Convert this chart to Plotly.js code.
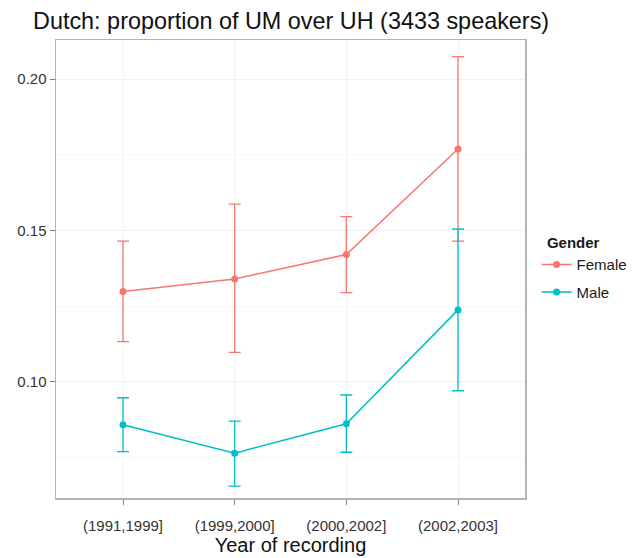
<!DOCTYPE html>
<html>
<head>
<meta charset="utf-8">
<script src="https://cdn.plot.ly/plotly-3.0.1.min.js"></script>
<style>
  html, body { margin: 0; padding: 0; background: #ffffff; }
  #chart { width: 635px; height: 558px; }
</style>
</head>
<body>
<div id="chart"></div>
<script>
// Recording periods on the x axis
const periods = ["(1991,1999]", "(1999,2000]", "(2000,2002]", "(2002,2003]"];

// Proportion of UM over UH, with confidence bounds, by gender
const femaleMean  = [0.1299, 0.1340, 0.1421, 0.1769];
const femaleUpper = [0.1465, 0.1587, 0.1546, 0.2074];
const femaleLower = [0.1133, 0.1098, 0.1295, 0.1465];

const maleMean  = [0.0859, 0.0765, 0.0862, 0.1238];
const maleUpper = [0.0948, 0.0871, 0.0957, 0.1505];
const maleLower = [0.0770, 0.0656, 0.0768, 0.0971];

const yTicks = [0.10, 0.15, 0.20];

function series(name, color, mean, upper, lower) {
  return {
    type: "scatter",
    mode: "lines+markers",
    name: name,
    legendgroup: name,
    x: periods,
    y: mean,
    line: { color: color, width: 1.5 },
    marker: { color: color, size: 7 },
    error_y: {
      type: "data",
      symmetric: false,
      array: upper.map((u, i) => u - mean[i]),
      arrayminus: mean.map((m, i) => m - lower[i]),
      color: color,
      thickness: 1.3,
      width: 6
    }
  };
}

const data = [
  series("Female", "#F8766D", femaleMean, femaleUpper, femaleLower),
  series("Male", "#00BFC4", maleMean, maleUpper, maleLower)
];

const layout = {
  width: 635,
  height: 558,
  paper_bgcolor: "#ffffff",
  plot_bgcolor: "#ffffff",
  margin: { l: 56, r: 110, t: 40, b: 60 },
  font: { family: "Liberation Sans, Arial, sans-serif", color: "#1a1a1a" },
  title: {
    text: "Dutch: proportion of UM over UH (3433 speakers)",
    font: { size: 23.4, color: "#111111" },
    xref: "container", x: 0.052, xanchor: "left",
    yref: "container", y: 0.963, yanchor: "middle"
  },
  xaxis: {
    type: "category",
    range: [-0.6, 3.6],
    showgrid: true,
    gridcolor: "#f2f2f2",
    gridwidth: 1,
    ticks: "outside",
    ticklen: 5,
    tickcolor: "#7f7f7f",
    tickfont: { size: 15, color: "#333333" },
    ticklabelstandoff: 8,
    showline: true,
    linecolor: "#b3b3b3",
    linewidth: 1.5,
    mirror: true,
    zeroline: false,
    title: { text: "Year of recording", font: { size: 20, color: "#111111" }, standoff: 0 }
  },
  yaxis: {
    range: [0.0617, 0.2129],
    tickvals: yTicks,
    ticktext: yTicks.map(v => v.toFixed(2)),
    showgrid: true,
    gridcolor: "#f0f0f0",
    gridwidth: 1,
    minor: { dtick: 0.05, tick0: 0.075, showgrid: true, gridcolor: "#f8f8f8", gridwidth: 1 },
    ticks: "outside",
    ticklen: 5,
    tickcolor: "#7f7f7f",
    tickfont: { size: 15, color: "#333333" },
    showline: true,
    linecolor: "#b3b3b3",
    linewidth: 1.5,
    mirror: true,
    zeroline: false
  },
  legend: {
    xref: "container", yref: "container",
    x: 0.845, xanchor: "left",
    y: 0.59, yanchor: "top",
    bgcolor: "rgba(0,0,0,0)",
    font: { size: 15, color: "#1a1a1a" },
    title: { text: "&nbsp;&nbsp;<b>Gender</b>", font: { size: 15, color: "#1a1a1a" } },
    itemwidth: 30,
    tracegroupgap: 5
  },
  showlegend: true
};

Plotly.newPlot("chart", data, layout, { displayModeBar: false, staticPlot: true });
</script>
</body>
</html>
